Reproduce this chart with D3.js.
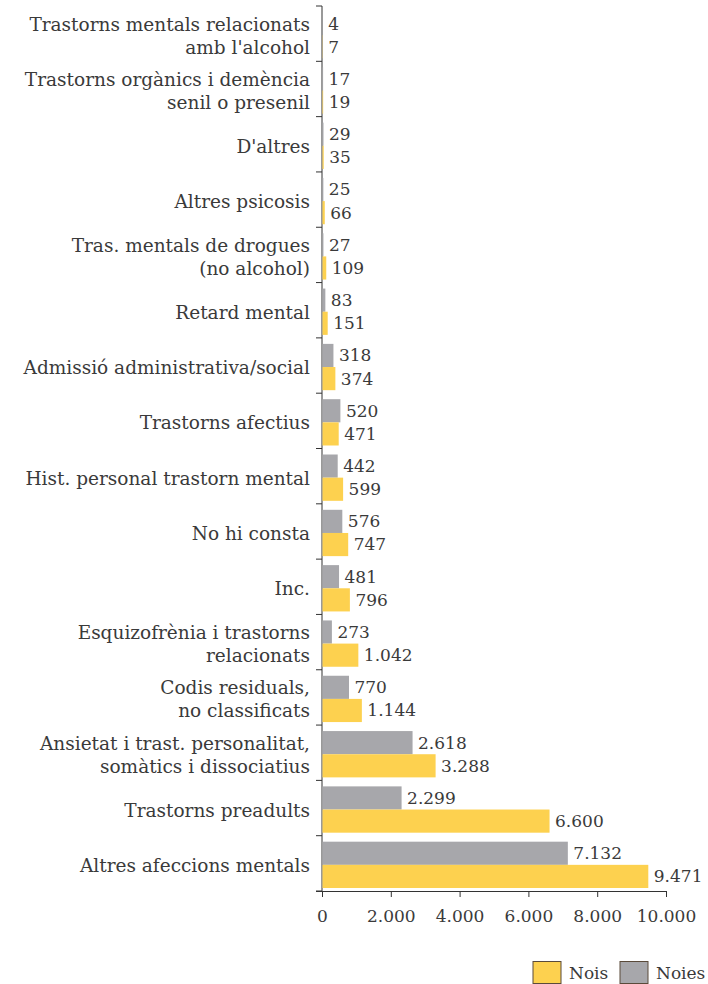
<!DOCTYPE html>
<html>
<head>
<meta charset="utf-8">
<script src="https://d3js.org/d3.v7.min.js"></script>
<style>
  body { margin: 0; background: #fff; }
  svg text { font-family: "DejaVu Serif", serif; fill: #3a3a3a; }
  .axis path, .axis line { stroke: #333; }
</style>
</head>
<body>
<svg width="708" height="984"></svg>
<script>
// categories from top to bottom
var categories = [
  "Trastorns mentals relacionats|amb l'alcohol",
  "Trastorns orgànics i demència|senil o presenil",
  "D'altres",
  "Altres psicosis",
  "Tras. mentals de drogues|(no alcohol)",
  "Retard mental",
  "Admissió administrativa/social",
  "Trastorns afectius",
  "Hist. personal trastorn mental",
  "No hi consta",
  "Inc.",
  "Esquizofrènia i trastorns|relacionats",
  "Codis residuals,|no classificats",
  "Ansietat i trast. personalitat,|somàtics i dissociatius",
  "Trastorns preadults",
  "Altres afeccions mentals"
];
var noies = [4, 17, 29, 25, 27, 83, 318, 520, 442, 576, 481, 273, 770, 2618, 2299, 7132];
var nois  = [7, 19, 35, 66, 109, 151, 374, 471, 599, 747, 796, 1042, 1144, 3288, 6600, 9471];
var xTicks = [0, 2000, 4000, 6000, 8000, 10000];

var series = [
  {key: "Noies", values: noies, color: "#a7a7ab"},
  {key: "Nois", values: nois, color: "#fdd14f"}
];

var loc = d3.formatLocale({decimal: ",", thousands: ".", grouping: [3], currency: ["", "€"]});
var fmt = loc.format(",d");

var svg = d3.select("svg");
var m = {left: 322, right: 666, top: 6, bottom: 891};

var x = d3.scaleLinear().domain([0, 10000]).range([m.left, m.right]);
var y = d3.scaleBand().domain(d3.range(categories.length)).range([m.top, m.bottom]);
var yIn = d3.scaleBand().domain(["Noies", "Nois"]).range([6, y.bandwidth() - 3]);

// y axis: line plus ticks at band boundaries
var gy = svg.append("g").attr("class", "axis");
gy.append("line").attr("x1", m.left).attr("x2", m.left).attr("y1", m.top).attr("y2", m.bottom);
d3.range(categories.length + 1).forEach(function(i) {
  var yy = m.top + i * y.step();
  gy.append("line").attr("x1", m.left - 6).attr("x2", m.left).attr("y1", yy).attr("y2", yy);
});

// bars
var groups = svg.selectAll(".grp").data(categories).enter().append("g")
  .attr("class", "grp")
  .attr("transform", function(d, i) { return "translate(0," + y(i) + ")"; });

series.forEach(function(s) {
  groups.append("rect")
    .attr("x", m.left + 0.5)
    .attr("y", yIn(s.key))
    .attr("width", function(d, i) { return x(s.values[i]) - m.left; })
    .attr("height", yIn.bandwidth())
    .attr("fill", s.color);
  groups.append("text")
    .attr("x", function(d, i) { return x(s.values[i]) + 6; })
    .attr("y", yIn(s.key) + yIn.bandwidth() / 2)
    .attr("dy", "0.35em")
    .attr("font-size", 17)
    .text(function(d, i) { return fmt(s.values[i]); });
});

// category labels
groups.each(function(d) {
  var lines = d.split("|");
  var t = d3.select(this).append("text")
    .attr("text-anchor", "end")
    .attr("font-size", 18.5)
    .attr("x", 310);
  var mid = y.bandwidth() / 2 + 2;
  lines.forEach(function(l, k) {
    t.append("tspan")
      .attr("x", 310)
      .attr("y", mid + (k - (lines.length - 1) / 2) * 23)
      .attr("dy", "0.35em")
      .text(l);
  });
});

// x axis
var gx = svg.append("g").attr("class", "axis")
  .attr("transform", "translate(0," + m.bottom + ")")
  .call(d3.axisBottom(x).tickValues(xTicks).tickFormat(fmt).tickSize(6).tickSizeOuter(0));
gx.select(".domain").attr("d", "M" + (m.left - 6) + ",0.5H" + m.right);
gx.selectAll("text").attr("font-size", 17).attr("dy", "1.3em").style("font-family", "DejaVu Serif, serif").attr("fill", "#3a3a3a");

// legend
var legendItems = [series[1], series[0]];
var lx = [533, 620];
legendItems.forEach(function(s, i) {
  svg.append("rect").attr("x", lx[i]).attr("y", 961.5).attr("width", 28).attr("height", 22)
    .attr("fill", s.color).attr("stroke", "#5a4a3a").attr("stroke-width", 1);
  svg.append("text").attr("x", lx[i] + 36).attr("y", 973).attr("dy", "0.35em")
    .attr("font-size", 17).text(s.key);
});
</script>
</body>
</html>
